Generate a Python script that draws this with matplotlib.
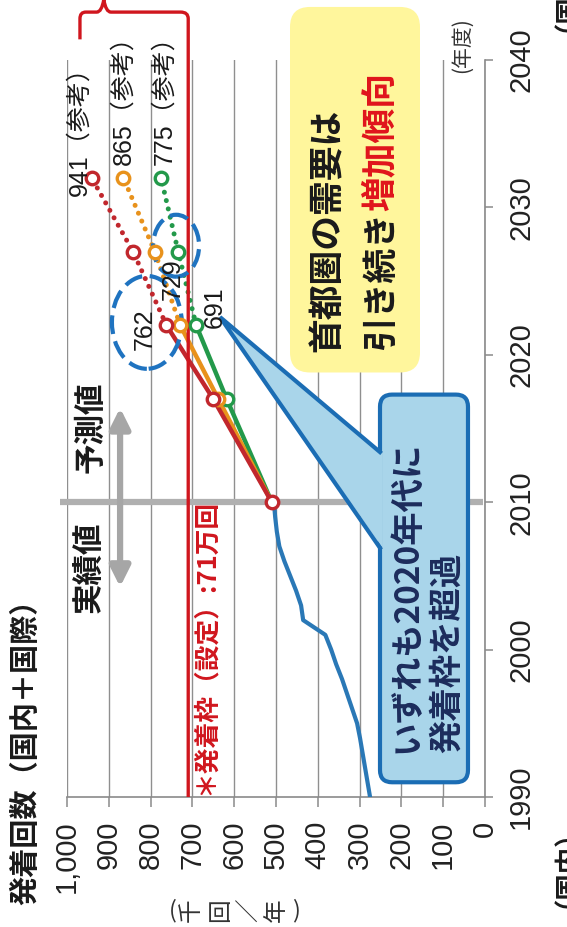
import matplotlib
matplotlib.use("Agg")
import matplotlib.pyplot as plt
from matplotlib.patches import FancyBboxPatch, Ellipse, Polygon, PathPatch
from matplotlib.path import Path

plt.rcParams['font.family'] = ['Noto Sans CJK JP', 'DejaVu Sans']
NUM_FONT = ['Liberation Sans', 'Noto Sans CJK JP']

# 実績値（千回/年）
actual_years = list(range(1990, 2011))
actual_vals = [275, 281, 287, 293, 299, 306, 318, 330, 342, 356, 368,
               382, 435, 440, 452, 466, 480, 492, 498, 502, 505]

# 予測値（千回/年）
fc_years = [2010, 2017, 2022, 2027, 2032]
fc_high = [510, 650, 762, 842, 941]
fc_mid = [510, 638, 729, 790, 865]
fc_low = [510, 618, 691, 734, 775]
fc_colors = ['#c1272d', '#e8921c', '#23994a']

cap = 710  # 発着枠（設定）

value_ticks = list(range(0, 1001, 100))
value_labels = ['0', '100', '200', '300', '400', '500', '600', '700', '800', '900', '1,000']
year_ticks = [1990, 2000, 2010, 2020, 2030, 2040]

W, H = 567, 927
fig = plt.figure(figsize=(W / 100, H / 100), dpi=100)
ax = fig.add_axes([67 / W, 130 / H, 418 / W, 737 / H])
ax.set_xlim(1000, 0)
ax.set_ylim(1990, 2040)

for s in ['left', 'top']:
    ax.spines[s].set_visible(False)
for s in ['right', 'bottom']:
    ax.spines[s].set_color('#8a8a8a')
    ax.spines[s].set_linewidth(1.2)

ax.set_xticks(value_ticks)
ax.set_xticklabels(value_labels)
ax.yaxis.tick_right()
ax.set_yticks(year_ticks)
ax.tick_params(axis='x', direction='out', length=7, width=1.1, color='#8a8a8a',
               pad=10, labelsize=21, labelrotation=90)
ax.tick_params(axis='y', direction='out', length=6, width=1.1, color='#8a8a8a',
               pad=10, labelsize=21, labelrotation=90)
for lbl in ax.get_xticklabels() + ax.get_yticklabels():
    lbl.set_fontfamily(NUM_FONT)
    lbl.set_color('#222222')
for lbl in ax.get_yticklabels():
    lbl.set_va('center')
ax.grid(axis='x', color='#8f8f8f', lw=1.0)
ax.grid(axis='y', visible=False)

# 2010年度の区切り線と矢印
ax.plot([1017, 5], [2010, 2010], color='#b0b0b0', lw=4.5, zorder=2, clip_on=False,
        solid_capstyle='butt')
ax.annotate('', xy=(873, 2016.4), xytext=(873, 2004.25),
            arrowprops=dict(arrowstyle='<|-|>', color='#a6a6a6', lw=4.5,
                            mutation_scale=30, shrinkA=0, shrinkB=0), zorder=2)
ax.text(945, 2002.5, '実績値', rotation=90, ha='center', va='bottom',
        fontsize=22, fontweight='bold', color='#1a1a1a')
ax.text(945, 2012.0, '予測値', rotation=90, ha='center', va='bottom',
        fontsize=22, fontweight='bold', color='#1a1a1a')

# 実績
ax.plot(actual_vals, actual_years, color='#2a78b6', lw=3, zorder=3,
        solid_joinstyle='round')

# 予測（2022年度まで実線、以降は点線）
for vals, col in zip([fc_low, fc_mid, fc_high], fc_colors[::-1]):
    ax.plot(vals[:3], fc_years[:3], color=col, lw=3.2, zorder=3, solid_capstyle='round')
    ax.plot(vals[2:], fc_years[2:], color=col, lw=3.6, zorder=3,
            linestyle=(0, (0.01, 1.7)), dash_capstyle='round')
for vals, col in zip([fc_low, fc_mid, fc_high], fc_colors[::-1]):
    ax.plot(vals[1:], fc_years[1:], linestyle='none', marker='o', ms=9,
            mfc='white', mec=col, mew=2.4, zorder=6)
ax.plot(fc_high[:1], fc_years[:1], linestyle='none', marker='o', ms=9,
        mfc='white', mec=fc_colors[0], mew=2.4, zorder=6)

# 発着枠の線と上部の括弧
top = 2042.8
brace = Path(
    [(cap, 1990), (cap, top), (cap, 2043.25), (cap + 18, 2043.25),
     (895, 2043.25), (907, 2043.25), (912, 2044.1),
     (917, 2043.25), (929, 2043.25), (955, 2043.25),
     (969, 2043.25), (969, top), (969, 2041.4)],
    [Path.MOVETO, Path.LINETO, Path.CURVE3, Path.CURVE3,
     Path.LINETO, Path.CURVE3, Path.CURVE3,
     Path.CURVE3, Path.CURVE3, Path.LINETO,
     Path.CURVE3, Path.CURVE3, Path.LINETO])
ax.add_patch(PathPatch(brace, fill=False, edgecolor='#d0161e', lw=2.4,
                       zorder=5, clip_on=False))
ax.text(670, 1990.15, '＊発着枠（設定）:71万回', rotation=90, ha='center', va='bottom',
        fontsize=18.5, fontweight='bold', color='#d0161e', zorder=7)

# 破線の丸
ax.add_patch(Ellipse((809, 2022.2), 167, 6.3, fill=False, edgecolor='#1f73c0',
                     lw=3, linestyle=(0, (4.5, 1.8)), zorder=5))
ax.add_patch(Ellipse((739, 2027.4), 110, 4.2, fill=False, edgecolor='#1f73c0',
                     lw=3, linestyle=(0, (4.5, 1.8)), zorder=5))

# 数値ラベル
lab_kw = dict(rotation=90, ha='center', va='bottom', fontsize=18,
              fontfamily=NUM_FONT, color='#1a1a1a', zorder=8)
ax.text(fc_high[-1] + 30, 2030.8, f'{fc_high[-1]}（参考）', **lab_kw)
ax.text(fc_mid[-1] + 1, 2032.9, f'{fc_mid[-1]}（参考）', **lab_kw)
ax.text(fc_low[-1] - 9, 2032.9, f'{fc_low[-1]}（参考）', **lab_kw)
ax.text(fc_high[2] + 51, 2020.3, f'{fc_high[2]}', **lab_kw)
ax.text(fc_mid[2] + 17, 2023.7, f'{fc_mid[2]}', **lab_kw)
ax.text(fc_low[2] - 45, 2021.8, f'{fc_low[2]}', **lab_kw)

# 黄色の吹き出し
ax.add_patch(FancyBboxPatch((155.5, 2018.8), 311, 24.8,
                            boxstyle='round,pad=0,rounding_size=48',
                            mutation_aspect=0.02836, facecolor='#fff69c',
                            edgecolor='none', zorder=4, clip_on=False))
ax.text(378, 2020.2, '首都圏の需要は', rotation=90, ha='center', va='bottom',
        fontsize=25, fontweight='bold', color='#1a1a1a', zorder=8)
t1 = ax.text(251, 2020.3, '引き続き', rotation=90, ha='center', va='bottom',
             fontsize=25, fontweight='bold', color='#1a1a1a', zorder=8)
fig.canvas.draw()
bb = t1.get_window_extent(fig.canvas.get_renderer())
y_top = ax.transData.inverted().transform((bb.x0, bb.y1))[1]
ax.text(251, y_top, '増加傾向', rotation=90, ha='center', va='bottom',
        fontsize=25, fontweight='bold', color='#e0141c', zorder=8)

# 青い吹き出し
tip = (634, 2022.56)
base_hi, base_lo = 2013.4, 2006.9
ax.add_patch(FancyBboxPatch((40.7, 1991.0), 210.5, 26.3,
                            boxstyle='round,pad=0,rounding_size=29',
                            mutation_aspect=0.02836, facecolor='#a9d5ea',
                            edgecolor='#1b6db4', lw=3, zorder=4, clip_on=False))
ax.add_patch(Polygon([tip, (245, base_hi), (245, base_lo)], closed=True,
                     facecolor='#a9d5ea', edgecolor='none', zorder=4.5))
ax.plot([251.2, tip[0], 251.2], [base_hi, tip[1], base_lo], color='#1b6db4', lw=3,
        zorder=4.6, solid_joinstyle='miter')
ax.text(187, 1993.0, 'いずれも2020年代に', rotation=90, ha='center', va='bottom',
        fontsize=24, fontweight='bold', color='#1c2c5c', zorder=8)
ax.text(91, 1993.0, '発着枠を超過', rotation=90, ha='center', va='bottom',
        fontsize=24, fontweight='bold', color='#1c2c5c', zorder=8)

# 軸まわりの文字
ax.text(1100, 1982.7, '発着回数（国内＋国際）', rotation=90, ha='center', va='bottom',
        fontsize=21, fontweight='bold', color='#1a1a1a', clip_on=False)
ax.text(55, 2039.1, '(年度)', rotation=90, ha='center', va='bottom',
        fontsize=15, color='#333333', clip_on=False)
unit_chars = [('(', 746, 0), ('千', 703, 90), ('回', 632, 90), ('／', 562, 90),
              ('年', 498, 90), (')', 452, 0)]
for ch, xv, rot in unit_chars:
    ax.text(xv, 1982.3, ch, rotation=rot, ha='center', va='center',
            fontsize=17, color='#333333', clip_on=False)
ax.text(-163, 1982.5, '（国内）', rotation=90, ha='center', va='bottom',
        fontsize=19, fontweight='bold', color='#1a1a1a', clip_on=False)
ax.text(-163, 2041.9, '（国際）', rotation=90, ha='center', va='bottom',
        fontsize=19, fontweight='bold', color='#1a1a1a', clip_on=False)

fig.savefig('out.png', dpi=100, facecolor='white')
